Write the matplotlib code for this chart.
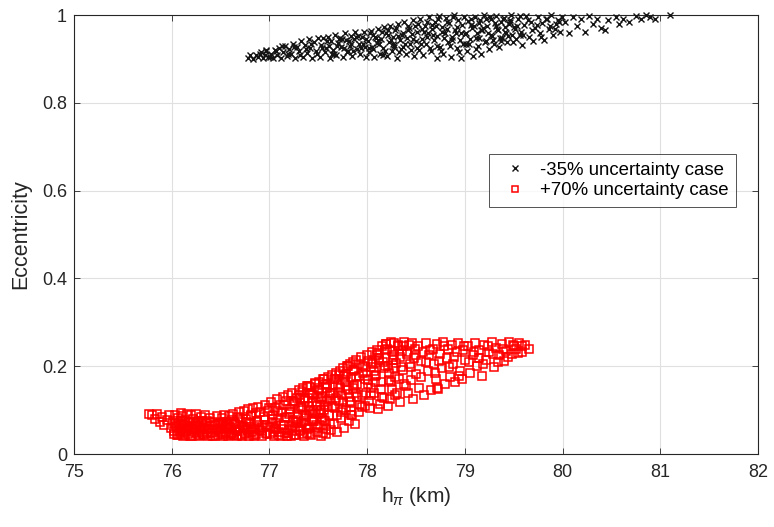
import matplotlib
matplotlib.use("Agg")
import matplotlib.pyplot as plt

plt.rcParams['font.family'] = ['Liberation Sans', 'DejaVu Sans']
plt.rcParams['mathtext.fontset'] = 'custom'
plt.rcParams['mathtext.rm'] = 'Liberation Sans'
plt.rcParams['mathtext.it'] = 'Liberation Sans:italic'

# ---- -35% uncertainty case (black x) ----
black_x = [
    76.78, 76.80, 76.83, 76.86, 76.88, 76.91, 76.93, 76.95, 76.97, 76.99,
    77.02, 77.04, 77.06, 77.08, 77.10, 77.12, 77.14, 77.16, 77.18, 77.20,
    77.22, 77.24, 77.26, 77.28, 77.30, 77.32, 77.34, 77.36, 77.38, 77.40,
    77.42, 77.44, 77.46, 77.48, 77.50,
    77.52, 77.53, 77.55, 77.57, 77.58, 77.60, 77.62, 77.63, 77.65, 77.67,
    77.68, 77.70, 77.72, 77.73, 77.75, 77.77, 77.78, 77.80, 77.82, 77.83,
    77.85, 77.87, 77.88, 77.90, 77.92, 77.93, 77.95, 77.97, 77.98, 77.99,
    78.01, 78.02, 78.04, 78.05, 78.07, 78.08, 78.10, 78.11, 78.13, 78.14,
    78.16, 78.17, 78.19, 78.20, 78.22, 78.23, 78.25, 78.26, 78.28, 78.29,
    78.31, 78.32, 78.34, 78.35, 78.37, 78.38, 78.40, 78.41, 78.43, 78.44,
    78.46, 78.47, 78.48, 78.49, 78.50,
    78.51, 78.53, 78.54, 78.56, 78.57, 78.59, 78.60, 78.62, 78.63, 78.65,
    78.66, 78.68, 78.69, 78.71, 78.72, 78.74, 78.75, 78.77, 78.78, 78.80,
    78.81, 78.83, 78.84, 78.86, 78.87, 78.89, 78.90, 78.92, 78.93, 78.95,
    78.96, 78.97, 78.98, 78.99, 79.00,
    79.02, 79.03, 79.05, 79.07, 79.08, 79.10, 79.12, 79.13, 79.15, 79.17,
    79.18, 79.20, 79.22, 79.23, 79.25, 79.27, 79.28, 79.30, 79.32, 79.33,
    79.35, 79.37, 79.38, 79.40, 79.42, 79.43, 79.45, 79.47, 79.48, 79.50,
    79.52, 79.54, 79.57, 79.59, 79.61, 79.63, 79.66, 79.68, 79.70, 79.72,
    79.75, 79.77, 79.79, 79.81, 79.84, 79.86, 79.88, 79.90, 79.93, 79.95,
    79.97, 79.99,
    80.03, 80.07, 80.11, 80.15, 80.19, 80.23, 80.27, 80.31, 80.35, 80.39,
    80.43, 80.47,
    80.55, 80.58, 80.62, 80.68, 80.75, 80.80, 80.85, 80.90, 80.95, 81.10,
]
black_e = [
    0.902, 0.908, 0.900, 0.910, 0.904, 0.915, 0.901, 0.909, 0.918, 0.905,
    0.912, 0.903, 0.921, 0.908, 0.926, 0.901, 0.915, 0.930, 0.906, 0.922,
    0.911, 0.935, 0.902, 0.927, 0.917, 0.940, 0.905, 0.931, 0.913, 0.945,
    0.924, 0.903, 0.938, 0.918, 0.948,
    0.905, 0.932, 0.947, 0.915, 0.925, 0.951, 0.903, 0.940, 0.920, 0.955,
    0.910, 0.936, 0.948, 0.927, 0.904, 0.958, 0.942, 0.918, 0.930, 0.953,
    0.906, 0.945, 0.961, 0.923, 0.935, 0.912, 0.950, 0.962, 0.928, 0.905,
    0.940, 0.915, 0.963, 0.928, 0.904, 0.951, 0.936, 0.968, 0.912, 0.945,
    0.925, 0.972, 0.958, 0.906, 0.938, 0.976, 0.919, 0.950, 0.931, 0.965,
    0.903, 0.980, 0.943, 0.922, 0.960, 0.985, 0.911, 0.948, 0.970, 0.933,
    0.956, 0.988, 0.907, 0.975, 0.940,
    0.962, 0.921, 0.990, 0.945, 0.908, 0.975, 0.933, 0.958, 0.995, 0.917,
    0.968, 0.942, 0.985, 0.903, 0.952, 0.998, 0.927, 0.972, 0.912, 0.960,
    0.993, 0.938, 0.982, 0.905, 0.949, 0.999, 0.966, 0.924, 0.988, 0.944,
    0.901, 0.978, 0.935, 0.996, 0.957,
    0.918, 0.987, 0.945, 0.970, 0.907, 0.995, 0.958, 0.930, 0.982, 0.912,
    0.965, 0.999, 0.940, 0.976, 0.922, 0.990, 0.952, 0.935, 0.997, 0.968,
    0.928, 0.984, 0.947, 0.993, 0.960, 0.938, 0.979, 0.999, 0.955, 0.972,
    0.945, 0.990, 0.962, 0.932, 0.978, 0.998, 0.950, 0.985, 0.940, 0.970,
    0.995, 0.958, 0.982, 0.944, 0.992, 0.968, 0.999, 0.955, 0.980, 0.988,
    0.962, 0.996,
    0.985, 0.960, 0.995, 0.975, 0.990, 0.962, 0.998, 0.980, 0.992, 0.970,
    0.966, 0.988,
    0.995, 0.980, 0.990, 0.985, 0.998, 0.992, 0.999, 0.996, 0.990, 1.000,
]
black_x2 = [
    76.90, 76.96, 77.01, 77.07, 77.13, 77.19, 77.25, 77.31, 77.37, 77.43,
    77.49, 77.54, 77.59, 77.64, 77.69, 77.74, 77.79, 77.84, 77.89, 77.94,
    77.99, 78.03, 78.06, 78.09, 78.12, 78.15, 78.18, 78.21, 78.24, 78.27,
    78.30, 78.33, 78.36, 78.39, 78.42, 78.45, 78.52, 78.55, 78.58, 78.61,
    78.64, 78.67, 78.70, 78.73, 78.76, 78.79, 78.82, 78.85, 78.88, 78.91,
    78.94, 79.01, 79.04, 79.06, 79.09, 79.11, 79.14, 79.16, 79.19, 79.21,
    79.24, 79.26, 79.29, 79.31, 79.34, 79.36, 79.39, 79.41, 79.44, 79.46,
    79.49, 79.53, 79.56, 79.60, 79.65, 79.69, 79.74, 79.78, 79.83, 79.87,
    79.92, 79.96,
    77.61, 77.66, 77.71, 77.76, 77.81, 77.86, 77.91, 77.96, 78.015, 78.065,
    78.115, 78.165, 78.215, 78.265, 78.315, 78.365, 78.415, 78.465, 78.515, 78.565,
    78.615, 78.665, 78.715, 78.765, 78.815, 78.865, 78.915, 78.965, 79.015, 79.065,
    79.115, 79.165, 79.215, 79.265, 79.315, 79.365, 79.415, 79.465, 79.515, 79.565,
]
black_e2 = [
    0.912, 0.920, 0.905, 0.918, 0.930, 0.912, 0.928, 0.908, 0.922, 0.935,
    0.912, 0.925, 0.940, 0.912, 0.930, 0.945, 0.915, 0.935, 0.950, 0.925,
    0.945, 0.958, 0.922, 0.948, 0.935, 0.962, 0.918, 0.955, 0.942, 0.928,
    0.970, 0.915, 0.955, 0.935, 0.965, 0.920, 0.980, 0.935, 0.962, 0.985,
    0.925, 0.955, 0.975, 0.990, 0.918, 0.948, 0.968, 0.930, 0.995, 0.958,
    0.915, 0.960, 0.935, 0.992, 0.975, 0.922, 0.948, 0.988, 0.970, 0.938,
    0.960, 0.995, 0.942, 0.982, 0.965, 0.948, 0.990, 0.972, 0.952, 0.985,
    0.938, 0.975, 0.998, 0.955, 0.988, 0.965, 0.978, 0.950, 0.990, 0.975,
    0.968, 0.985,
    0.930, 0.912, 0.945, 0.925, 0.940, 0.918, 0.952, 0.935, 0.925, 0.955,
    0.942, 0.910, 0.965, 0.935, 0.952, 0.928, 0.975, 0.945, 0.925, 0.968,
    0.950, 0.978, 0.930, 0.962, 0.985, 0.942, 0.972, 0.958, 0.935, 0.978,
    0.948, 0.965, 0.990, 0.955, 0.975, 0.940, 0.962, 0.988, 0.968, 0.955,
]

# ---- +70% uncertainty case (red squares) ----
red_x = [
    75.77, 75.80, 75.83, 75.85, 75.88, 75.90, 75.92, 75.95, 75.97, 75.99,
    76.01, 76.02, 76.03, 76.04, 76.05, 76.06, 76.07, 76.08, 76.09, 76.10,
    76.11, 76.12, 76.13, 76.14, 76.15, 76.16, 76.17, 76.18, 76.19, 76.20,
    76.21, 76.22, 76.23, 76.24, 76.25, 76.26, 76.27, 76.28, 76.29, 76.30,
    76.31, 76.32, 76.33, 76.34, 76.35, 76.36, 76.37, 76.38, 76.39, 76.40,
    76.42, 76.44, 76.46, 76.47, 76.49,
    76.50, 76.51, 76.52, 76.53, 76.54, 76.55, 76.56, 76.57, 76.58, 76.59,
    76.60, 76.61, 76.62, 76.63, 76.64, 76.65, 76.66, 76.67, 76.68, 76.69,
    76.70, 76.71, 76.72, 76.73, 76.74, 76.75, 76.76, 76.77, 76.78, 76.79,
    76.80, 76.81, 76.82, 76.83, 76.84, 76.85, 76.86, 76.87, 76.88, 76.90,
    76.92, 76.94, 76.95, 76.97, 76.99,
    77.01, 77.02, 77.03, 77.04, 77.05, 77.06, 77.07, 77.08, 77.09, 77.10,
    77.11, 77.12, 77.13, 77.14, 77.15, 77.16, 77.17, 77.18, 77.19, 77.20,
    77.21, 77.22, 77.23, 77.24, 77.25, 77.26, 77.27, 77.28, 77.29, 77.30,
    77.31, 77.32, 77.33, 77.34, 77.35, 77.36, 77.37, 77.38, 77.39, 77.40,
    77.42, 77.44, 77.45, 77.47, 77.49,
    77.50, 77.51, 77.52, 77.53, 77.54, 77.55, 77.56, 77.57, 77.58, 77.59,
    77.60, 77.61, 77.62, 77.63, 77.64, 77.65, 77.66, 77.67, 77.68, 77.69,
    77.70, 77.71, 77.72, 77.73, 77.74, 77.75, 77.76, 77.77, 77.78, 77.79,
    77.80, 77.81, 77.82, 77.83, 77.84, 77.85, 77.86, 77.87, 77.88, 77.89,
    77.90, 77.92, 77.94, 77.96, 77.98,
    78.00, 78.01, 78.03, 78.04, 78.05, 78.07, 78.08, 78.10, 78.11, 78.12,
    78.14, 78.15, 78.17, 78.18, 78.19, 78.21, 78.22, 78.24, 78.25, 78.26,
    78.28, 78.29, 78.30, 78.32, 78.33, 78.34, 78.36, 78.37, 78.38, 78.40,
    78.41, 78.42, 78.43, 78.44, 78.45, 78.46, 78.47, 78.48, 78.49, 78.50,
    78.52, 78.53, 78.55, 78.57, 78.58, 78.60, 78.62, 78.63, 78.65, 78.67,
    78.68, 78.70, 78.72, 78.73, 78.75, 78.77, 78.78, 78.80, 78.82, 78.83,
    78.85, 78.87, 78.88, 78.90, 78.92, 78.93, 78.95, 78.97, 78.98, 79.00,
    79.03, 79.05, 79.08, 79.10, 79.12, 79.15, 79.18, 79.20, 79.22, 79.25,
    79.28, 79.30, 79.32, 79.35, 79.38, 79.40, 79.42, 79.45, 79.48, 79.50,
    79.52, 79.55, 79.58, 79.62, 79.66,
]
red_e = [
    0.092, 0.088, 0.080, 0.091, 0.072, 0.085, 0.066, 0.078, 0.090, 0.060,
    0.075, 0.052, 0.090, 0.063, 0.044, 0.082, 0.070, 0.048, 0.094, 0.058,
    0.086, 0.041, 0.067, 0.078, 0.053, 0.092, 0.045, 0.072, 0.060, 0.088,
    0.042, 0.080, 0.055, 0.066, 0.091, 0.047, 0.075, 0.040, 0.062, 0.084,
    0.050, 0.070, 0.043, 0.089, 0.057, 0.076, 0.041, 0.064, 0.082, 0.048,
    0.072, 0.040, 0.086, 0.056, 0.068,
    0.050, 0.082, 0.041, 0.066, 0.090, 0.045, 0.073, 0.058, 0.040, 0.086,
    0.062, 0.048, 0.078, 0.092, 0.043, 0.069, 0.055, 0.040, 0.084, 0.095,
    0.052, 0.074, 0.042, 0.063, 0.098, 0.047, 0.080, 0.058, 0.102, 0.041,
    0.070, 0.088, 0.050, 0.105, 0.062, 0.044, 0.093, 0.076, 0.108, 0.054,
    0.041, 0.085, 0.112, 0.066, 0.098,
    0.045, 0.118, 0.072, 0.090, 0.041, 0.105, 0.060, 0.125, 0.082, 0.050,
    0.112, 0.040, 0.096, 0.130, 0.066, 0.048, 0.120, 0.085, 0.135, 0.055,
    0.102, 0.042, 0.140, 0.076, 0.115, 0.061, 0.044, 0.128, 0.092, 0.145,
    0.052, 0.108, 0.070, 0.150, 0.040, 0.122, 0.086, 0.058, 0.155, 0.098,
    0.046, 0.138, 0.075, 0.160, 0.110,
    0.062, 0.165, 0.095, 0.042, 0.130, 0.170, 0.078, 0.112, 0.045, 0.150,
    0.175, 0.088, 0.125, 0.055, 0.180, 0.140, 0.068, 0.105, 0.185, 0.050,
    0.158, 0.120, 0.190, 0.082, 0.135, 0.195, 0.060, 0.168, 0.100, 0.200,
    0.145, 0.075, 0.205, 0.118, 0.175, 0.088, 0.210, 0.155, 0.068, 0.215,
    0.130, 0.095, 0.220, 0.185, 0.110,
    0.225, 0.160, 0.105, 0.198, 0.232, 0.140, 0.178, 0.238, 0.102, 0.215,
    0.165, 0.245, 0.128, 0.200, 0.250, 0.110, 0.185, 0.255, 0.148, 0.222,
    0.252, 0.135, 0.208, 0.246, 0.172, 0.118, 0.235, 0.192, 0.255, 0.155,
    0.228, 0.140, 0.248, 0.205, 0.168, 0.252, 0.125, 0.218, 0.240, 0.182,
    0.245, 0.150, 0.212, 0.232, 0.135, 0.252, 0.190, 0.225, 0.145, 0.240,
    0.205, 0.170, 0.250, 0.148, 0.228, 0.195, 0.255, 0.160, 0.218, 0.240,
    0.175, 0.248, 0.205, 0.165, 0.232, 0.252, 0.190, 0.170, 0.238, 0.215,
    0.245, 0.185, 0.225, 0.252, 0.200, 0.238, 0.178, 0.248, 0.215, 0.232,
    0.255, 0.198, 0.242, 0.225, 0.250, 0.212, 0.235, 0.255, 0.228, 0.245,
    0.240, 0.252, 0.232, 0.248, 0.240,
]
red_x2 = [
    76.02, 76.05, 76.08, 76.11, 76.14, 76.17, 76.20, 76.23, 76.26, 76.29,
    76.32, 76.35, 76.38, 76.41, 76.44, 76.47, 76.50, 76.53, 76.56, 76.59,
    76.62, 76.65, 76.68, 76.71, 76.74, 76.77, 76.80, 76.83, 76.86, 76.89,
    76.92, 76.95, 76.98, 77.01, 77.04, 77.07, 77.10, 77.13, 77.16, 77.19,
    77.22, 77.25, 77.28, 77.31, 77.34, 77.37, 77.40, 77.43, 77.46, 77.49,
    77.52, 77.55, 77.58,
    76.035, 76.065, 76.095, 76.125, 76.155, 76.185, 76.215, 76.245, 76.275, 76.305,
    76.335, 76.365, 76.395, 76.425, 76.455, 76.485, 76.515, 76.545, 76.575, 76.605,
    76.635, 76.665, 76.695, 76.725, 76.755, 76.785, 76.815, 76.845, 76.875, 76.905,
    76.935, 76.965, 76.995, 77.025, 77.055, 77.085, 77.115, 77.145, 77.175, 77.205,
    77.235, 77.265, 77.295, 77.325, 77.355, 77.385, 77.415, 77.445, 77.475, 77.505,
    77.535, 77.565,
    77.30, 77.33, 77.36, 77.39, 77.42, 77.45, 77.48, 77.51, 77.54, 77.57,
    77.60, 77.63, 77.66, 77.69, 77.72, 77.75, 77.78, 77.81, 77.84, 77.87,
    77.90, 77.93, 77.96, 77.99, 78.02, 78.05, 78.08, 78.11, 78.14, 78.17,
    78.20, 78.23, 78.26, 78.29, 78.32, 78.35, 78.38, 78.41,
    77.31, 77.35, 77.38, 77.41, 77.44, 77.47, 77.50, 77.53, 77.56, 77.59,
    77.62, 77.65, 77.68, 77.71, 77.74, 77.77, 77.80, 77.83, 77.86, 77.89,
    77.92, 77.95, 77.98, 78.01, 78.04, 78.07, 78.10, 78.13, 78.16, 78.19,
    78.22, 78.25, 78.28, 78.31, 78.34, 78.37,
    78.45, 78.50, 78.55, 78.60, 78.64, 78.69, 78.74, 78.79, 78.84, 78.89,
    78.94, 78.99, 79.04, 79.09, 79.14, 79.19, 79.24, 79.29, 79.34, 79.39,
    79.44, 79.49, 79.54, 79.59, 78.71,
    77.215, 77.245, 77.275, 77.305, 77.345, 77.375, 77.405, 77.435, 77.465, 77.495,
    77.525, 77.555, 77.585, 77.615, 77.645, 77.675, 77.705, 77.735, 77.765, 77.795,
    77.825, 77.855, 77.885, 77.915, 77.945, 77.975, 78.005, 78.035, 78.065, 78.095,
    78.125, 78.155, 78.185, 78.215, 78.245, 78.275,
]
red_e2 = [
    0.046, 0.061, 0.053, 0.068, 0.044, 0.057, 0.072, 0.049, 0.063, 0.055,
    0.045, 0.070, 0.058, 0.050, 0.066, 0.043, 0.059, 0.074, 0.051, 0.064,
    0.047, 0.069, 0.056, 0.044, 0.062, 0.073, 0.049, 0.058, 0.046, 0.067,
    0.053, 0.078, 0.045, 0.061, 0.050, 0.070, 0.044, 0.057, 0.082, 0.048,
    0.064, 0.043, 0.072, 0.054, 0.046, 0.088, 0.060, 0.044, 0.076, 0.051,
    0.066, 0.047, 0.058,
    0.068, 0.043, 0.075, 0.050, 0.064, 0.041, 0.058, 0.070, 0.044, 0.076,
    0.060, 0.047, 0.073, 0.042, 0.055, 0.071, 0.046, 0.062, 0.068, 0.043,
    0.074, 0.052, 0.081, 0.060, 0.045, 0.055, 0.086, 0.042, 0.072, 0.095,
    0.062, 0.048, 0.105, 0.080, 0.058, 0.098, 0.066, 0.112, 0.042, 0.092,
    0.052, 0.118, 0.084, 0.062, 0.128, 0.048, 0.100, 0.134, 0.066, 0.092,
    0.140, 0.076,
    0.105, 0.142, 0.088, 0.128, 0.152, 0.096, 0.118, 0.145, 0.082, 0.160,
    0.108, 0.138, 0.172, 0.090, 0.150, 0.118, 0.182, 0.130, 0.098, 0.192,
    0.160, 0.112, 0.200, 0.140, 0.120, 0.210, 0.165, 0.230, 0.148, 0.195,
    0.240, 0.125, 0.215, 0.175, 0.248, 0.198, 0.160, 0.232,
    0.128, 0.075, 0.155, 0.110, 0.080, 0.162, 0.130, 0.100, 0.172, 0.120,
    0.068, 0.158, 0.128, 0.180, 0.105, 0.165, 0.200, 0.088, 0.150, 0.175,
    0.205, 0.135, 0.172, 0.212, 0.150, 0.190, 0.225, 0.115, 0.210, 0.250,
    0.168, 0.235, 0.195, 0.138, 0.222, 0.245,
    0.198, 0.225, 0.175, 0.210, 0.238, 0.185, 0.212, 0.245, 0.198, 0.222,
    0.178, 0.245, 0.210, 0.232, 0.218, 0.205, 0.245, 0.228, 0.210, 0.240,
    0.222, 0.248, 0.230, 0.245, 0.150,
    0.095, 0.120, 0.078, 0.135, 0.100, 0.065, 0.140, 0.118, 0.092, 0.150,
    0.125, 0.100, 0.160, 0.135, 0.110, 0.170, 0.142, 0.095, 0.178, 0.155,
    0.120, 0.188, 0.140, 0.178, 0.108, 0.198, 0.168, 0.135, 0.205, 0.180,
    0.218, 0.130, 0.238, 0.200, 0.165, 0.225,
]

labels = ['-35% uncertainty case', '+70% uncertainty case']
x_ticks = [75, 76, 77, 78, 79, 80, 81, 82]
y_ticks = [0, 0.2, 0.4, 0.6, 0.8, 1]
y_tick_labels = ['0', '0.2', '0.4', '0.6', '0.8', '1']

axcol = (0.15, 0.15, 0.15)

fig = plt.figure(figsize=(7.74, 5.27), dpi=100)
ax = fig.add_axes([0.0956, 0.1385, 0.8837, 0.833])

ax.plot(black_x + black_x2, black_e + black_e2, linestyle='none', marker='x',
        color=(0.08, 0.08, 0.08), markersize=5.0, markeredgewidth=1.0,
        label=labels[0], clip_on=False, zorder=3)
ax.plot(red_x + red_x2, red_e + red_e2, linestyle='none', marker='s',
        color='red', markerfacecolor='none', markeredgecolor='red',
        markersize=5.4, markeredgewidth=1.1, label=labels[1], zorder=3)

ax.set_xlim(75, 82)
ax.set_ylim(0, 1)
ax.set_xticks(x_ticks)
ax.set_yticks(y_ticks)
ax.set_yticklabels(y_tick_labels)
ax.grid(True, color=(0.88, 0.88, 0.88), linewidth=0.8)
ax.set_axisbelow(True)
ax.tick_params(axis='both', direction='in', top=True, right=True, length=4,
               width=0.6, colors=axcol, labelsize=13, labelcolor=axcol)
ax.tick_params(axis='x', pad=7)
ax.tick_params(axis='y', pad=5)
for s in ax.spines.values():
    s.set_color(axcol)
    s.set_linewidth(0.8)

ax.set_xlabel(r'h$_{\pi}$ (km)', fontsize=15, color=axcol, labelpad=3)
ax.set_ylabel('Eccentricity', fontsize=15.5, color=axcol, labelpad=8)

leg = ax.legend(loc='upper right', bbox_to_anchor=(0.968, 0.683), fontsize=13.4,
                markerscale=0.8, frameon=True, fancybox=False, edgecolor=axcol,
                handlelength=2.0, handletextpad=0.35, borderpad=0.4,
                labelspacing=0.2, borderaxespad=0)
leg.get_frame().set_linewidth(0.7)
for t in leg.get_texts():
    t.set_color('black')

fig.savefig('out.png', dpi=100)
